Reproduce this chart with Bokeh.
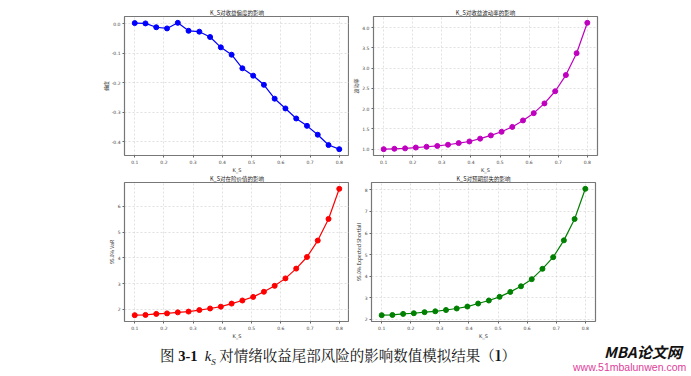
from bokeh.plotting import figure
from bokeh.layouts import column, row
from bokeh.models import Range1d, FixedTicker, PrintfTickFormatter, Div
from bokeh.embed import file_html
from bokeh.resources import INLINE

k_s = [0.1, 0.1368, 0.1737, 0.2105, 0.2474, 0.2842, 0.3211, 0.3579, 0.3947, 0.4316,
       0.4684, 0.5053, 0.5421, 0.5789, 0.6158, 0.6526, 0.6895, 0.7263, 0.7632, 0.8]

skewness = [0.002, 0.001, -0.012, -0.016, 0.003, -0.024, -0.027, -0.045, -0.080, -0.105,
            -0.151, -0.176, -0.207, -0.254, -0.287, -0.321, -0.346, -0.376, -0.411, -0.425]
volatility = [1.00, 1.01, 1.02, 1.04, 1.06, 1.08, 1.11, 1.15, 1.19, 1.26,
              1.34, 1.43, 1.55, 1.71, 1.89, 2.13, 2.43, 2.83, 3.37, 4.12]
var95 = [1.77, 1.78, 1.82, 1.84, 1.88, 1.91, 1.97, 2.03, 2.10, 2.22,
         2.34, 2.48, 2.68, 2.91, 3.20, 3.58, 4.03, 4.67, 5.51, 6.68]
es95 = [2.19, 2.20, 2.25, 2.28, 2.33, 2.37, 2.43, 2.50, 2.59, 2.73,
        2.87, 3.04, 3.27, 3.53, 3.86, 4.34, 4.88, 5.66, 6.65, 8.05]

x_ticks = [0.1, 0.2, 0.3, 0.4, 0.5, 0.6, 0.7, 0.8]
titles = ["K_S对收益偏度的影响", "K_S对收益波动率的影响", "K_S对在险价值的影响", "K_S对预期损失的影响"]
ylabels = ["偏度", "波动率", "95.0% VaR", "95.0% Expected Shortfall"]
y_ticks = [[0.0, -0.1, -0.2, -0.3, -0.4],
           [1.0, 1.5, 2.0, 2.5, 3.0, 3.5, 4.0],
           [2, 3, 4, 5, 6],
           [2, 3, 4, 5, 6, 7, 8]]
y_fmt = ["%.1f", "%.1f", "%d", "%d"]
colors = ["#0000ff", "#bf00bf", "#ff0000", "#008000"]
series = [skewness, volatility, var95, es95]

CJK = "Noto Sans CJK SC"


def rng(vals):
    lo, hi = min(vals), max(vals)
    pad = (hi - lo) * 0.05
    return Range1d(lo - pad, hi + pad)


def make(i, left, right, top, bottom, fill):
    p = figure(frame_width=225 if i % 2 == 0 else 224, frame_height=139,
               min_border_left=left, min_border_right=right,
               min_border_top=top, min_border_bottom=bottom,
               x_range=rng(k_s), y_range=rng(series[i]),
               output_backend="svg", toolbar_location=None, title=titles[i])
    p.title.text_font = CJK
    p.title.text_font_size = "5.5px"
    p.title.text_font_style = "normal"
    p.title.text_color = "#222222"
    p.title.text_line_height = 0.9
    p.title.align = "center"
    p.title.standoff = 0
    p.title.offset = 0
    p.line(k_s, series[i], line_color=colors[i], line_width=1.2)
    p.scatter(k_s, series[i], size=5, fill_color=colors[i], line_color=colors[i])
    p.xaxis.ticker = FixedTicker(ticks=x_ticks)
    p.yaxis.ticker = FixedTicker(ticks=y_ticks[i])
    p.yaxis.formatter = PrintfTickFormatter(format=y_fmt[i])
    p.xaxis.formatter = PrintfTickFormatter(format="%.1f")
    p.xaxis.axis_label = "K_S"
    p.yaxis.axis_label = ylabels[i]
    p.xaxis.axis_label_text_font = "DejaVu Sans"
    p.yaxis.axis_label_text_font = CJK
    for ax in (p.xaxis, p.yaxis):
        ax.axis_label_text_font_size = "5px"
        ax.axis_label_text_font_style = "normal"
        ax.axis_label_text_color = "#333333"
        ax.axis_label_text_line_height = 0.9
        ax.axis_label_standoff = 0
        ax.major_label_text_font = "DejaVu Sans"
        ax.major_label_text_font_size = "4.5px"
        ax.major_label_text_color = "#444444"
        ax.major_label_text_line_height = 0.9
        ax.major_label_standoff = 2
        ax.major_tick_out = 2
        ax.major_tick_in = 0
        ax.minor_tick_out = 0
        ax.minor_tick_in = 0
        ax.axis_line_color = None
        ax.major_tick_line_color = "#666666"
    p.grid.grid_line_color = "#cccccc"
    p.grid.grid_line_dash = "2 2"
    p.grid.grid_line_width = 0.6
    p.outline_line_color = "#777777"
    p.outline_line_width = 1.2
    p.outline_line_alpha = 1
    p.background_fill_color = "white"
    p.border_fill_color = fill
    return p


p1 = make(0, 124, 0, 16, 14, "white")
p2 = make(1, 22, 96, 16, 14, "white")
p3 = make(2, 124, 0, 8, 14, None)
p4 = make(3, 22, 96, 8, 14, None)

caption = Div(width=691, height=40, styles={"margin": "0", "padding": "0"}, text="""
<div style="position:relative;width:691px;height:40px;">
  <div style="position:absolute;left:160px;top:4px;font-family:'Liberation Serif','DejaVu Serif',serif;font-size:14.5px;color:#111;white-space:nowrap;">
    <span style="font-family:'Noto Serif CJK SC','Noto Sans CJK SC',serif;">图</span>
    <b>3-1</b>&nbsp;&nbsp;<i>k</i><sub style="font-size:9px;"><i>S</i></sub>
    <span style="font-family:'Noto Serif CJK SC','Noto Sans CJK SC',serif;">对情绪收益尾部风险的影响数值模拟结果（<b>1</b>）</span>
  </div>
  <div style="position:absolute;left:604px;top:3px;font-family:'Noto Sans CJK SC',sans-serif;font-size:15px;font-weight:bold;font-style:italic;color:#111;white-space:nowrap;line-height:16px;">MBA论文网</div>
  <div style="position:absolute;left:573px;top:21px;font-family:'Liberation Sans',Arial,sans-serif;font-size:10.5px;color:#e0409a;white-space:nowrap;line-height:11px;">www.51mbalunwen.com</div>
</div>
""")

bottom_row = row(p3, p4, spacing=0, styles={"margin-top": "-3px"})
layout = column(row(p1, p2, spacing=0), bottom_row, caption, spacing=0)

open("out.html", "w").write(file_html(layout, INLINE))
